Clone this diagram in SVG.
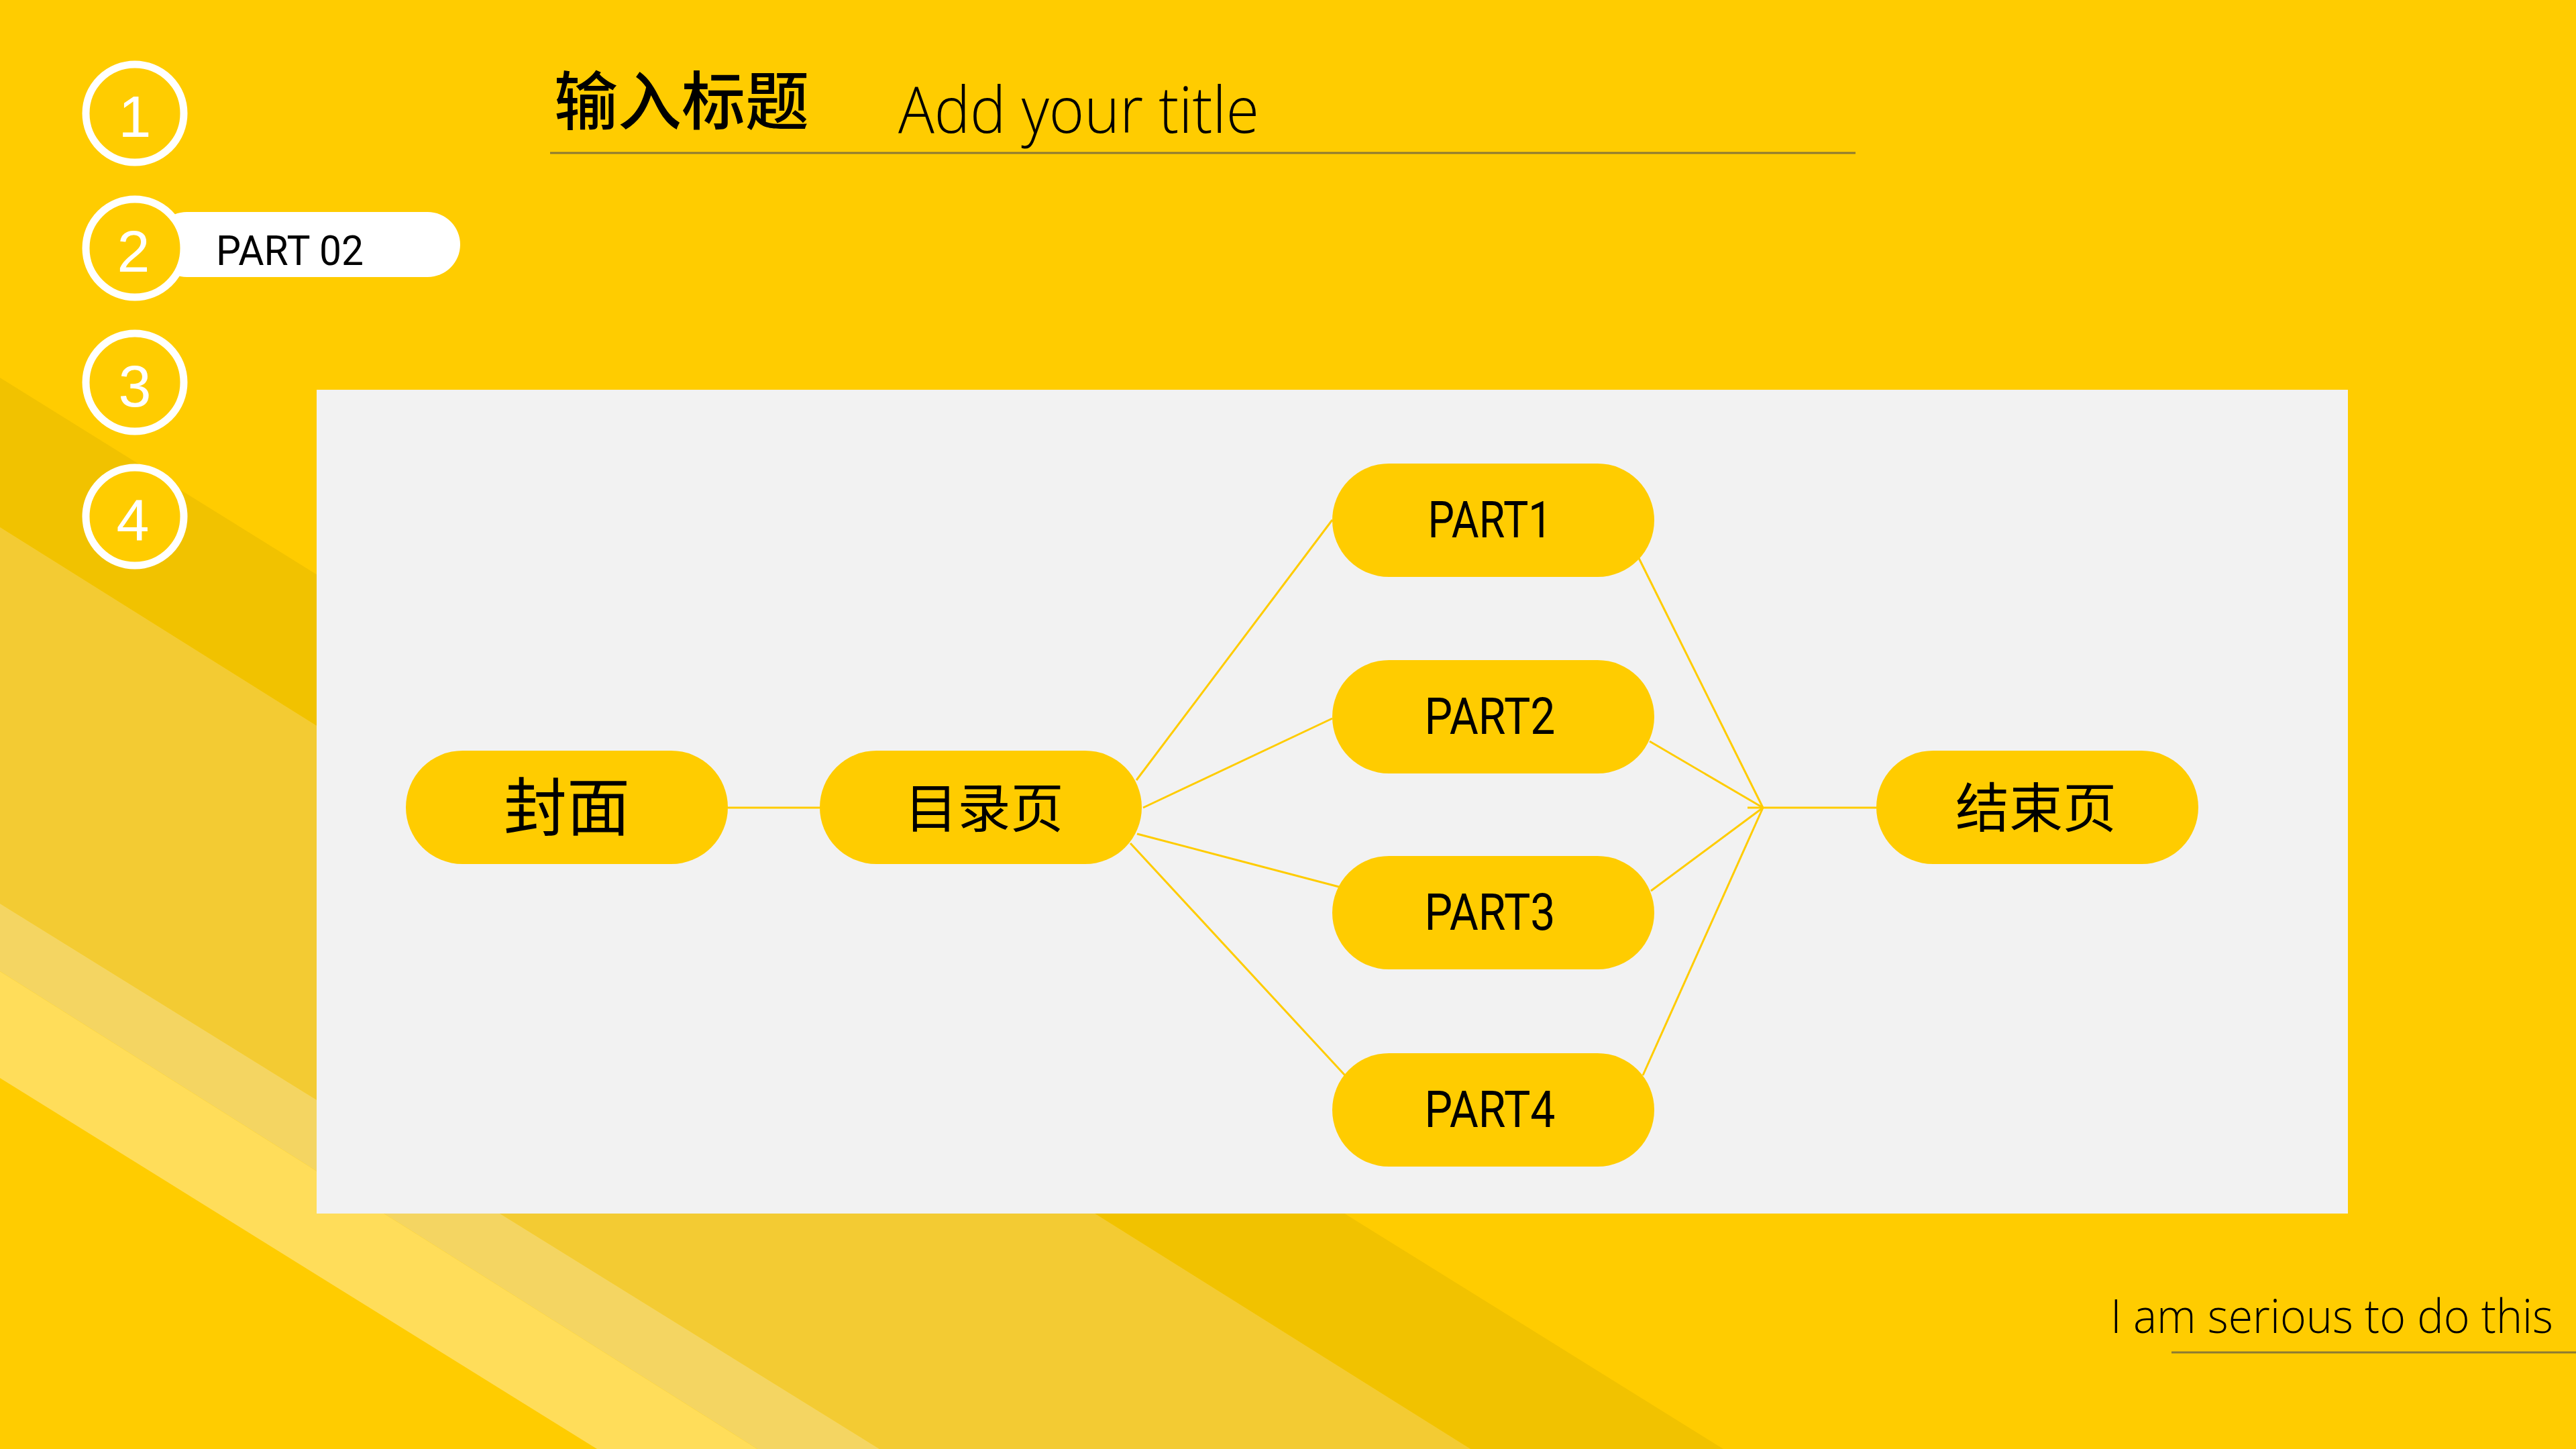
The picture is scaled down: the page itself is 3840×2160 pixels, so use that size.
<svg xmlns="http://www.w3.org/2000/svg" width="3840" height="2160" viewBox="0 0 3840 2160">
<defs>
<style>
.node rect{fill:#ffcc00}
.cjk{font-family:"Noto Sans CJK SC","Noto Sans",sans-serif;fill:#000;text-anchor:middle}
.part{font-family:Roboto,"Liberation Sans",sans-serif;font-size:76px;fill:#000;text-anchor:middle}
.conn line{stroke:#ffcc00;stroke-width:3;fill:none}
.ring{fill:#ffcc00;stroke:#fff;stroke-width:11}
.digit{font-family:"Liberation Sans",Arial,sans-serif;font-size:88px;fill:#fff;text-anchor:middle}
.light{font-family:"Open Sans","Liberation Sans",sans-serif;font-weight:300;fill:#000}
.rule{stroke:#8c7a33;stroke-width:3}
</style>
</defs>
<rect id="background" x="0" y="0" width="3840" height="2160" fill="#ffcc00"/>
<g id="bands">
<polygon points="0,563 2569,2160 2192,2160 0,786" fill="#f1c200"/>
<polygon points="0,786 2192,2160 1311,2160 0,1347" fill="#f3cb33"/>
<polygon points="0,1347 1311,2160 1129,2160 0,1448" fill="#f4d562"/>
<polygon points="0,1448 1129,2160 890,2160 0,1607" fill="#ffdd5a"/>
</g>
<g id="nav">
<rect x="230" y="316" width="456" height="97" rx="48.5" fill="#fff"/>
<text x="322" y="395" font-family="Roboto,'Liberation Sans',sans-serif" font-size="62" fill="#000" textLength="220" lengthAdjust="spacingAndGlyphs">PART 02</text>
<g id="nav1"><circle class="ring" cx="201" cy="169" r="73"/><text class="digit" x="201" y="204">1</text></g>
<g id="nav2"><circle class="ring" cx="201" cy="370" r="73"/><text class="digit" x="199" y="405">2</text></g>
<g id="nav3"><circle class="ring" cx="201" cy="570" r="73"/><text class="digit" x="201" y="606">3</text></g>
<g id="nav4"><circle class="ring" cx="201" cy="770" r="73"/><text class="digit" x="198" y="806">4</text></g>
</g>
<g id="title">
<text x="826" y="186" class="cjk" style="text-anchor:start;font-weight:500" font-size="95">输入标题</text>
<text x="1339" y="198" class="light" font-size="95" textLength="538" lengthAdjust="spacingAndGlyphs">Add your title</text>
<line class="rule" x1="820" y1="228" x2="2766" y2="228"/>
</g>
<rect id="panel" x="472" y="581" width="3028" height="1228" fill="#f2f2f2"/>
<g class="conn" id="connectors">
<line x1="1085" y1="1204" x2="1222" y2="1204"/>
<line x1="1694" y1="1163" x2="1986" y2="775"/>
<line x1="1704" y1="1204" x2="1986" y2="1071"/>
<line x1="1695" y1="1243" x2="1996" y2="1322"/>
<line x1="1685" y1="1257" x2="2005" y2="1603"/>
<line x1="2443" y1="832" x2="2628" y2="1204"/>
<line x1="2459" y1="1105" x2="2628" y2="1204"/>
<line x1="2461" y1="1328" x2="2628" y2="1204"/>
<line x1="2449" y1="1603" x2="2628" y2="1204"/>
<line x1="2605" y1="1204" x2="2797" y2="1204"/>
</g>
<g class="node" id="node-cover"><rect x="605" y="1119" width="480" height="169" rx="84.5"/><text class="cjk" x="845" y="1238" font-size="94">封面</text></g>
<g class="node" id="node-toc"><rect x="1222" y="1119" width="480" height="169" rx="84.5"/><text class="cjk" x="1467" y="1234" font-size="79">目录页</text></g>
<g class="node" id="node-part1"><rect x="1986" y="691" width="480" height="169" rx="84.5"/><text class="part" x="2221" y="801" textLength="185" lengthAdjust="spacingAndGlyphs">PART1</text></g>
<g class="node" id="node-part2"><rect x="1986" y="984" width="480" height="169" rx="84.5"/><text class="part" x="2221" y="1094" textLength="195" lengthAdjust="spacingAndGlyphs">PART2</text></g>
<g class="node" id="node-part3"><rect x="1986" y="1276" width="480" height="169" rx="84.5"/><text class="part" x="2221" y="1386" textLength="195" lengthAdjust="spacingAndGlyphs">PART3</text></g>
<g class="node" id="node-part4"><rect x="1986" y="1570" width="480" height="169" rx="84.5"/><text class="part" x="2221" y="1680" textLength="195" lengthAdjust="spacingAndGlyphs">PART4</text></g>
<g class="node" id="node-end"><rect x="2797" y="1119" width="480" height="169" rx="84.5"/><text class="cjk" x="3035" y="1233" font-size="80">结束页</text></g>
<g id="footer">
<text x="3146" y="1987" class="light" font-size="70" textLength="660" lengthAdjust="spacingAndGlyphs">I am serious to do this</text>
<line class="rule" x1="3237" y1="2016" x2="3840" y2="2016"/>
</g>
</svg>
